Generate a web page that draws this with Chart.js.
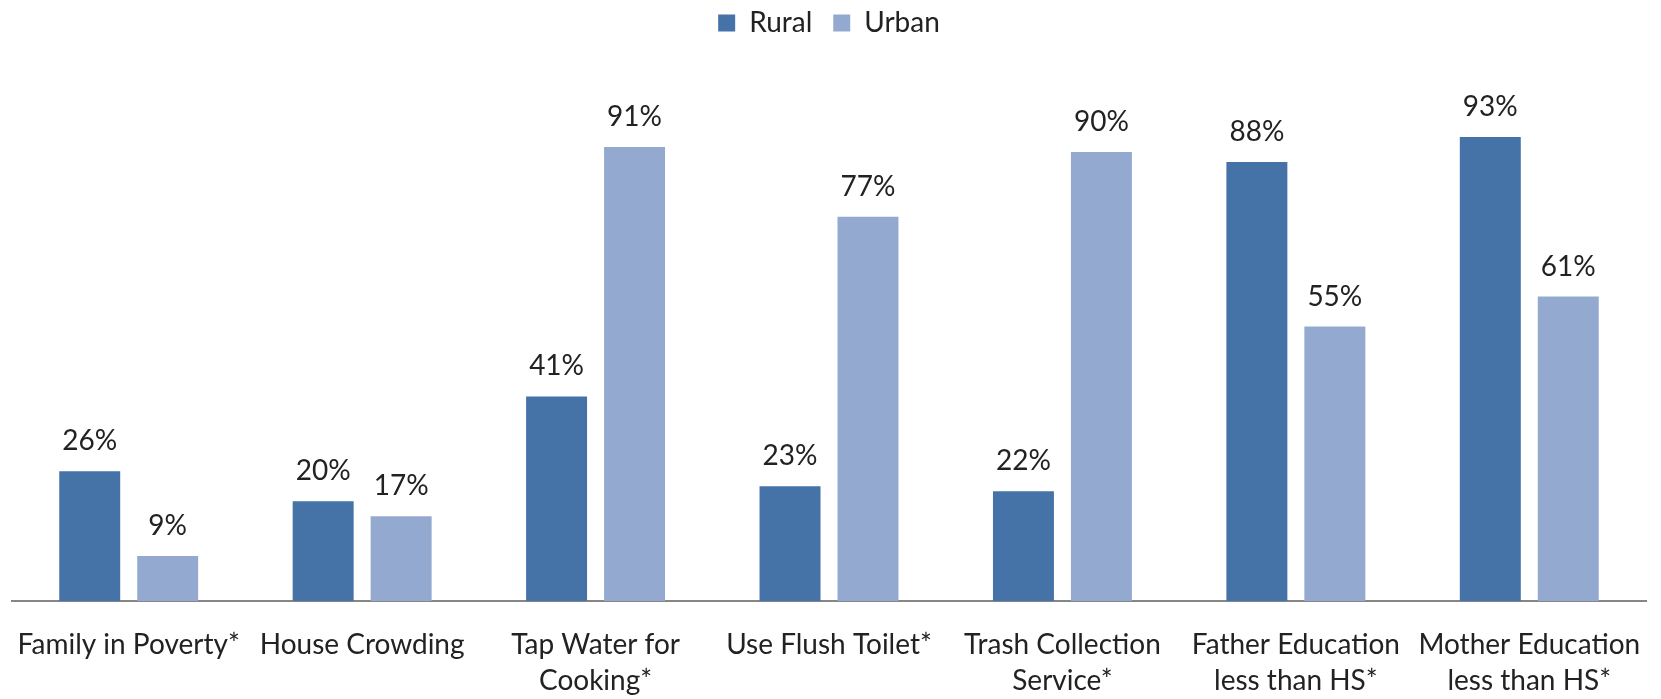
<!DOCTYPE html>
<html>
<head>
<meta charset="utf-8">
<title>Rural vs Urban</title>
<script src="https://cdn.jsdelivr.net/npm/chart.js@4"></script>
<style>
  html, body { margin: 0; padding: 0; background: #fff; }
  .chart-wrap { position: relative; width: 1661px; height: 699px; }
</style>
</head>
<body>
<div class="chart-wrap"><canvas id="chart"></canvas></div>
<script>
const categories = [
  "Family in Poverty*",
  "House Crowding",
  ["Tap Water for", "Cooking*"],
  "Use Flush Toilet*",
  ["Trash Collection", "Service*"],
  ["Father Education", "less than HS*"],
  ["Mother Education", "less than HS*"],
];
const rural = [26, 20, 41, 23, 22, 88, 93];
const urban = [9, 17, 91, 77, 90, 55, 61];

const FONT = "Lato, 'Open Sans', sans-serif";
const FONT_SIZE = 28;

// 棒の上にパーセント表示を描く
const barValueLabels = {
  id: "barValueLabels",
  afterDatasetsDraw(chart) {
    const { ctx } = chart;
    ctx.save();
    ctx.font = `${FONT_SIZE}px ${FONT}`;
    ctx.fillStyle = "#222";
    ctx.textAlign = "center";
    ctx.textBaseline = "alphabetic";
    chart.data.datasets.forEach((ds, i) => {
      chart.getDatasetMeta(i).data.forEach((bar, j) => {
        ctx.fillText(`${ds.data[j]}%`, bar.x, bar.y - 21);
      });
    });
    ctx.restore();
  },
};

// 凡例の下に余白を足してグラフ領域を下げる
const legendSpacing = {
  id: "legendSpacing",
  beforeInit(chart) {
    const fit = chart.legend.fit;
    chart.legend.fit = function () {
      fit.call(this);
      this.height += 55;
    };
  },
};

new Chart(document.getElementById("chart"), {
  type: "bar",
  data: {
    labels: categories,
    datasets: [
      { label: "Rural", data: rural, backgroundColor: "#4572A7" },
      { label: "Urban", data: urban, backgroundColor: "#94A9D0" },
    ],
  },
  options: {
    responsive: true,
    maintainAspectRatio: false,
    animation: false,
    datasets: {
      bar: { categoryPercentage: 0.668, barPercentage: 0.782 },
    },
    layout: { padding: { left: 12, right: 15, top: -12, bottom: 0 } },
    scales: {
      y: { display: false, min: 0, max: 100 },
      x: {
        grid: { display: false, drawTicks: false },
        border: { display: true, color: "#868686", width: 2 },
        ticks: {
          color: "#222",
          font: { family: FONT, size: FONT_SIZE, lineHeight: 1.29 },
          padding: 26,
          maxRotation: 0,
          autoSkip: false,
        },
        // ラベルのはみ出し分で幅を削られないようにする
        afterFit(scale) {
          scale.height = 98;
          scale.paddingLeft = 0;
          scale.paddingRight = 0;
        },
      },
    },
    plugins: {
      tooltip: { enabled: false },
      legend: {
        position: "top",
        labels: {
          color: "#222",
          font: { family: FONT, size: FONT_SIZE },
          boxWidth: 17,
          boxHeight: 17,
          padding: 21,
        },
      },
    },
  },
  plugins: [barValueLabels, legendSpacing],
});
</script>
</body>
</html>
